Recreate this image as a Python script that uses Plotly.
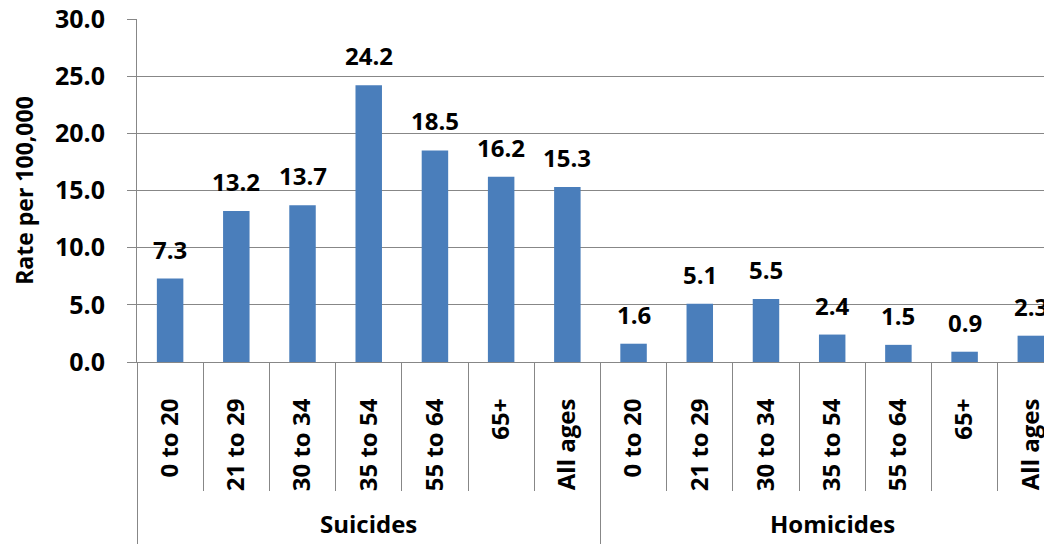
import plotly.graph_objects as go

group_names = ["Suicides", "Homicides"]
ages = ["0 to 20", "21 to 29", "30 to 34", "35 to 54", "55 to 64", "65+", "All ages"]
suicides = [7.3, 13.2, 13.7, 24.2, 18.5, 16.2, 15.3]
homicides = [1.6, 5.1, 5.5, 2.4, 1.5, 0.9, 2.3]
y_ticks = [0, 5, 10, 15, 20, 25, 30]

labels = ages + ages
rates = suicides + homicides
n = len(rates)
idx = list(range(n))
group_sizes = [len(suicides), len(homicides)]

font_family = "Open Sans, Liberation Sans, Arial, sans-serif"
grey = "#878787"
bold = dict(family=font_family, size=24, color="#000000", weight="bold")

fig = go.Figure()
fig.add_trace(go.Bar(
    x=idx, y=rates,
    marker=dict(color="#4A7EBB", line=dict(width=0)),
    hoverinfo="x+y",
))

# category boundaries and group dividers derived from data lengths
boundaries = [i - 0.5 for i in range(n + 1)]
group_edges = [-0.5]
for s in group_sizes:
    group_edges.append(group_edges[-1] + s)
group_centers = [(group_edges[i] + group_edges[i + 1]) / 2 for i in range(len(group_sizes))]

fig.add_trace(go.Scatter(x=boundaries, y=[None] * len(boundaries), xaxis="x2",
                         mode="lines", showlegend=False, hoverinfo="skip"))
fig.add_trace(go.Scatter(x=group_edges, y=[None] * len(group_edges), xaxis="x3",
                         mode="lines", showlegend=False, hoverinfo="skip"))

x_range = [-0.5, 13.32]

# the page body adds an 8px margin, so the figure is 8px smaller than the window
fig.update_layout(
    width=1044, height=536,
    margin=dict(l=129, r=0, t=11, b=182),
    paper_bgcolor="white", plot_bgcolor="white",
    bargap=0.6,
    showlegend=False,
    font=dict(family=font_family, color="#000000"),
    xaxis=dict(
        range=x_range, tickmode="array", tickvals=idx, ticktext=labels,
        tickangle=-90, tickfont=bold, ticks="", ticklabelstandoff=26,
        showline=True, linecolor=grey, linewidth=1, showgrid=False,
        zeroline=False, automargin=False,
    ),
    xaxis2=dict(
        overlaying="x", anchor="y", side="bottom", range=x_range, matches="x",
        tickmode="array", tickvals=boundaries, showticklabels=False,
        ticks="outside", ticklen=128, tickcolor=grey, tickwidth=1,
        showline=False, showgrid=False, zeroline=False,
    ),
    xaxis3=dict(
        overlaying="x", anchor="y", side="bottom", range=x_range, matches="x",
        tickmode="array", tickvals=group_edges, showticklabels=False,
        ticks="outside", ticklen=182, tickcolor=grey, tickwidth=1,
        showline=False, showgrid=False, zeroline=False,
    ),
    yaxis=dict(
        range=[0, 30.001], tickmode="array", tickvals=y_ticks, tickformat=".1f",
        tickfont=dict(family=font_family, size=25, color="#000000", weight="bold"),
        ticklabelstandoff=17, ticklabeloverflow="allow",
        showgrid=True, gridcolor=grey, gridwidth=1,
        showline=True, linecolor=grey, linewidth=1,
        ticks="outside", ticklen=9, tickcolor=grey,
        title=dict(text="Rate per 100,000", font=dict(family=font_family, size=23, weight="bold"), standoff=18),
        zeroline=False, automargin=False,
    ),
)

annotations = []
for i, v in zip(idx, rates):
    annotations.append(dict(
        x=i, y=v, xref="x", yref="y", text=f"{v:.1f}", showarrow=False,
        yanchor="bottom", yshift=11, font=bold,
    ))
for name, c in zip(group_names, group_centers):
    annotations.append(dict(
        x=c, y=-0.472, xref="x", yref="paper", text=name, showarrow=False,
        yanchor="middle", font=bold,
    ))
fig.update_layout(annotations=annotations)

fig.write_html("out.html")
